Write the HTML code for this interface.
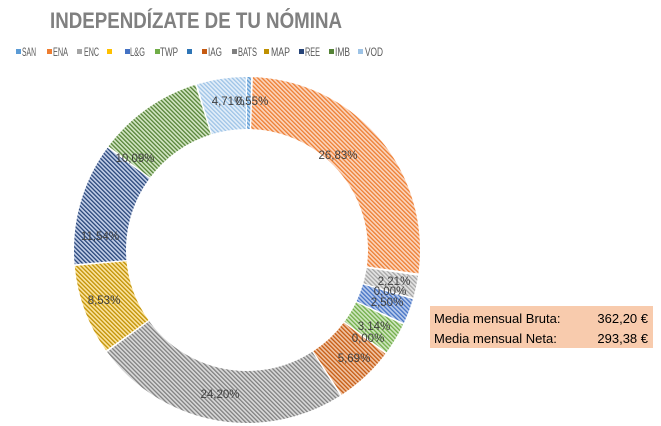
<!DOCTYPE html>
<html><head><meta charset="utf-8"><style>
html,body{margin:0;padding:0;background:#fff;}
svg{display:block;font-family:"Liberation Sans",sans-serif;}
</style></head><body>
<svg width="661" height="426" viewBox="0 0 661 426">
<defs>
<pattern id="pSAN" width="3" height="3" patternUnits="userSpaceOnUse" patternTransform="rotate(45)"><rect width="3" height="3" fill="#c5dbf0"/><rect width="1.3" height="3" fill="#5b9bd5"/></pattern>
<pattern id="pENA" width="3" height="3" patternUnits="userSpaceOnUse" patternTransform="rotate(45)"><rect width="3" height="3" fill="#fbd5bd"/><rect width="1.3" height="3" fill="#ed7d31"/></pattern>
<pattern id="pENC" width="3" height="3" patternUnits="userSpaceOnUse" patternTransform="rotate(45)"><rect width="3" height="3" fill="#e4e4e4"/><rect width="1.3" height="3" fill="#a5a5a5"/></pattern>
<pattern id="pLG" width="3" height="3" patternUnits="userSpaceOnUse" patternTransform="rotate(45)"><rect width="3" height="3" fill="#b9cbec"/><rect width="1.3" height="3" fill="#4472c4"/></pattern>
<pattern id="pTWP" width="3" height="3" patternUnits="userSpaceOnUse" patternTransform="rotate(45)"><rect width="3" height="3" fill="#cfe6c0"/><rect width="1.3" height="3" fill="#70ad47"/></pattern>
<pattern id="pIAG" width="3" height="3" patternUnits="userSpaceOnUse" patternTransform="rotate(45)"><rect width="3" height="3" fill="#f0c3a3"/><rect width="1.3" height="3" fill="#c55a11"/></pattern>
<pattern id="pBATS" width="3" height="3" patternUnits="userSpaceOnUse" patternTransform="rotate(45)"><rect width="3" height="3" fill="#d9d9d9"/><rect width="1.3" height="3" fill="#7f7f7f"/></pattern>
<pattern id="pMAP" width="3" height="3" patternUnits="userSpaceOnUse" patternTransform="rotate(45)"><rect width="3" height="3" fill="#fbe3a0"/><rect width="1.3" height="3" fill="#c09000"/></pattern>
<pattern id="pREE" width="3" height="3" patternUnits="userSpaceOnUse" patternTransform="rotate(45)"><rect width="3" height="3" fill="#c3cfe8"/><rect width="1.3" height="3" fill="#264478"/></pattern>
<pattern id="pIMB" width="3" height="3" patternUnits="userSpaceOnUse" patternTransform="rotate(45)"><rect width="3" height="3" fill="#d3e6c4"/><rect width="1.3" height="3" fill="#548235"/></pattern>
<pattern id="pVOD" width="3" height="3" patternUnits="userSpaceOnUse" patternTransform="rotate(45)"><rect width="3" height="3" fill="#e3eef9"/><rect width="1.3" height="3" fill="#9dc3e6"/></pattern>
</defs>

<text x="50" y="28" font-size="22" font-weight="bold" fill="#808080" textLength="292" lengthAdjust="spacingAndGlyphs">INDEPENDÍZATE DE TU NÓMINA</text>

<g font-size="12" fill="#595959">
<rect x="16" y="49" width="5" height="5" fill="#5b9bd5"/><text x="22" y="56" textLength="14" lengthAdjust="spacingAndGlyphs">SAN</text>
<rect x="47" y="49" width="5" height="5" fill="#ed7d31"/><text x="53" y="56" textLength="15" lengthAdjust="spacingAndGlyphs">ENA</text>
<rect x="77" y="49" width="5" height="5" fill="#a5a5a5"/><text x="84" y="56" textLength="15" lengthAdjust="spacingAndGlyphs">ENC</text>
<rect x="107" y="49" width="5" height="5" fill="#ffc000"/>
<rect x="125" y="49" width="5" height="5" fill="#4472c4"/><text x="130" y="56" textLength="15" lengthAdjust="spacingAndGlyphs">L&amp;G</text>
<rect x="155" y="49" width="5" height="5" fill="#70ad47"/><text x="160" y="56" textLength="18" lengthAdjust="spacingAndGlyphs">TWP</text>
<rect x="187" y="49" width="5" height="5" fill="#2e75b6"/>
<rect x="202" y="49" width="5" height="5" fill="#c55a11"/><text x="208" y="56" textLength="14" lengthAdjust="spacingAndGlyphs">IAG</text>
<rect x="232" y="49" width="5" height="5" fill="#7f7f7f"/><text x="238" y="56" textLength="19" lengthAdjust="spacingAndGlyphs">BATS</text>
<rect x="264" y="49" width="5" height="5" fill="#bf9000"/><text x="271" y="56" textLength="19" lengthAdjust="spacingAndGlyphs">MAP</text>
<rect x="299" y="49" width="5" height="5" fill="#264478"/><text x="305" y="56" textLength="15" lengthAdjust="spacingAndGlyphs">REE</text>
<rect x="329" y="49" width="5" height="5" fill="#548235"/><text x="335" y="56" textLength="15" lengthAdjust="spacingAndGlyphs">IMB</text>
<rect x="358" y="49" width="5" height="5" fill="#9dc3e6"/><text x="365" y="56" textLength="18" lengthAdjust="spacingAndGlyphs">VOD</text>
</g>

<g transform="rotate(-90 247 250)" fill="none" stroke-width="52">
<circle cx="247" cy="250" r="147" stroke="url(#pSAN)" stroke-dasharray="3.55 920" stroke-dashoffset="0"/>
<circle cx="247" cy="250" r="147" stroke="url(#pENA)" stroke-dasharray="245.8 680" stroke-dashoffset="-5.07"/>
<circle cx="247" cy="250" r="147" stroke="url(#pENC)" stroke-dasharray="18.9 905" stroke-dashoffset="-252.9"/>
<circle cx="247" cy="250" r="147" stroke="url(#pLG)" stroke-dasharray="21.6 905" stroke-dashoffset="-273.3"/>
<circle cx="247" cy="250" r="147" stroke="url(#pTWP)" stroke-dasharray="27.5 900" stroke-dashoffset="-296.4"/>
<circle cx="247" cy="250" r="147" stroke="url(#pIAG)" stroke-dasharray="51.05 880" stroke-dashoffset="-325.4"/>
<circle cx="247" cy="250" r="147" stroke="url(#pBATS)" stroke-dasharray="222 700" stroke-dashoffset="-377.96"/>
<circle cx="247" cy="250" r="147" stroke="url(#pMAP)" stroke-dasharray="77.3 850" stroke-dashoffset="-601.5"/>
<circle cx="247" cy="250" r="147" stroke="url(#pREE)" stroke-dasharray="105.1 820" stroke-dashoffset="-680.3"/>
<circle cx="247" cy="250" r="147" stroke="url(#pIMB)" stroke-dasharray="91.7 835" stroke-dashoffset="-786.9"/>
<circle cx="247" cy="250" r="147" stroke="url(#pVOD)" stroke-dasharray="42 880" stroke-dashoffset="-880.1"/>
</g>

<g font-size="11.5" fill="#404040" text-anchor="middle">
<text x="338" y="159">26,83%</text>
<text x="394" y="285">2,21%</text>
<text x="390" y="295">0,00%</text>
<text x="387" y="306">2,50%</text>
<text x="374" y="330">3,14%</text>
<text x="368" y="342">0,00%</text>
<text x="354" y="362">5,69%</text>
<text x="220" y="398">24,20%</text>
<text x="104" y="304">8,53%</text>
<text x="100" y="240">11,54%</text>
<text x="135" y="162">10,09%</text>
<text x="228" y="105">4,71%</text>
<text x="252" y="105">0,55%</text>
</g>

<rect x="430" y="306" width="223" height="42" fill="#f8cbad"/>
<g font-size="13" fill="#000">
<text x="434" y="323">Media mensual Bruta:</text>
<text x="434" y="343">Media mensual Neta:</text>
<text x="648" y="323" text-anchor="end">362,20 €</text>
<text x="648" y="343" text-anchor="end">293,38 €</text>
</g>
</svg>
</body></html>
